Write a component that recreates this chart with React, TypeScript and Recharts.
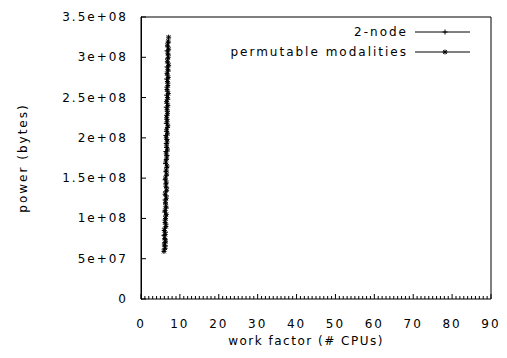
import { ScatterChart, Scatter, XAxis, YAxis } from "recharts"

// work factor (# CPUs) vs power (bytes, in millions)
const twoNodeX = [6.0, 6.3, 6.1, 6.2, 5.9, 6.3, 6.1, 6.4, 6.2, 6.3, 6.1, 6.5, 6.3, 6.2, 6.5, 6.3, 6.6, 6.4, 6.2, 6.5, 6.4, 6.6, 6.3, 6.5, 6.7, 6.4, 6.6, 6.5, 6.7, 6.4, 6.6, 6.8, 6.5, 6.7, 6.6, 6.8, 6.5, 6.7, 6.9, 6.6, 6.8, 6.7, 6.9, 6.6, 6.8, 7.0, 6.7, 6.9, 6.8, 7.0, 6.7, 6.9, 7.0]
const twoNodeY = [62, 66, 70, 74, 79, 83, 88, 93, 98, 103, 108, 113, 118, 123, 128, 133, 138, 143, 148, 153, 158, 163, 168, 173, 178, 183, 188, 193, 198, 203, 208, 213, 218, 223, 228, 233, 238, 243, 248, 253, 258, 263, 268, 273, 278, 283, 288, 293, 298, 303, 308, 313, 318]

const permX = [5.9, 6.2, 6.0, 6.3, 6.1, 6.2, 6.0, 6.4, 6.2, 6.3, 6.5, 6.2, 6.4, 6.3, 6.5, 6.2, 6.6, 6.4, 6.5, 6.3, 6.6, 6.5, 6.7, 6.4, 6.6, 6.5, 6.8, 6.6, 6.7, 6.5, 6.8, 6.6, 6.9, 6.7, 6.6, 6.8, 6.7, 6.9, 6.6, 6.8, 7.0, 6.7, 6.9, 6.8, 7.0, 6.7, 6.9, 7.1, 6.8, 7.0, 6.9, 7.1, 6.8, 7.0, 7.1]
const permY = [59, 63, 67, 71, 75, 80, 85, 90, 95, 100, 105, 110, 115, 120, 125, 130, 135, 140, 145, 150, 155, 160, 165, 170, 175, 180, 185, 190, 195, 200, 205, 210, 215, 220, 225, 230, 235, 240, 245, 250, 255, 260, 265, 270, 275, 280, 285, 290, 295, 300, 305, 310, 315, 320, 325]

const xMajorTicks = [0, 10, 20, 30, 40, 50, 60, 70, 80, 90]
const xMinorTicks = Array.from({ length: 91 }, (_, i) => i)
const yTicks = [0, 5e7, 1e8, 1.5e8, 2e8, 2.5e8, 3e8, 3.5e8]
const yTickLabels = ["0", "5e+07", "1e+08", "1.5e+08", "2e+08", "2.5e+08", "3e+08", "3.5e+08"]

const twoNode = twoNodeX.map((x, i) => ({ x, y: twoNodeY[i] * 1e6 }))
const perm = permX.map((x, i) => ({ x, y: permY[i] * 1e6 }))

const FONT = "DejaVu Sans"
const LEFT_X = 141

const plusPath = (cx: number, cy: number, r: number) =>
  `M${cx - r},${cy}H${cx + r}M${cx},${cy - r}V${cy + r}`
const starPath = (cx: number, cy: number, r: number) =>
  plusPath(cx, cy, r) + `M${cx - r * 0.75},${cy - r * 0.75}L${cx + r * 0.75},${cy + r * 0.75}M${cx - r * 0.75},${cy + r * 0.75}L${cx + r * 0.75},${cy - r * 0.75}`

const PlusDot = (p: any) => <path d={plusPath(p.cx, p.cy, 2.5)} stroke="#000" strokeWidth={1} fill="none" />
const StarDot = (p: any) => <path d={starPath(p.cx, p.cy, 2.5)} stroke="#000" strokeWidth={1} fill="none" />

const BottomTick = (p: any) => {
  const v = p.payload.value
  const major = v % 10 === 0
  return (
    <g>
      <line x1={p.x} x2={p.x} y1={p.y} y2={p.y - (major ? 5 : 3)} stroke="#000" />
      {major && (
        <text x={p.x} y={p.y + 29} textAnchor="middle" fontFamily={FONT} fontSize={12} letterSpacing={2} fill="#000">
          {v}
        </text>
      )}
    </g>
  )
}

const TopTick = (p: any) => <line x1={p.x} x2={p.x} y1={p.y} y2={p.y + 5} stroke="#000" />

// label plus an inward tick on the left border
const LeftTick = (p: any) => {
  const idx = yTicks.indexOf(p.payload.value)
  return (
    <g>
      <line x1={LEFT_X} x2={LEFT_X + 5} y1={p.y} y2={p.y} stroke="#000" strokeWidth={1} />
      <text x={p.x} y={p.y + 4} textAnchor="end" fontFamily={FONT} fontSize={12} letterSpacing={2} fill="#000">
        {yTickLabels[idx]}
      </text>
    </g>
  )
}

const RightTick = (p: any) => <line x1={p.x} x2={p.x - 5} y1={p.y} y2={p.y} stroke="#000" />

export default function App() {
  return (
    <div style={{ position: "absolute", left: 0, top: 0, width: 507, height: 358, background: "#fff" }}>
      <ScatterChart width={507} height={358} margin={{ top: 16, right: 15, bottom: 20, left: 0 }}>
        <XAxis
          type="number"
          dataKey="x"
          domain={[0, 90]}
          ticks={xMinorTicks}
          interval={0}
          height={39}
          tickSize={0}
          tickMargin={0}
          tickLine={false}
          axisLine={{ stroke: "#000" }}
          tick={BottomTick}
          allowDataOverflow
        />
        <XAxis
          xAxisId="top"
          orientation="top"
          type="number"
          dataKey="x"
          domain={[0, 90]}
          ticks={xMajorTicks}
          interval={0}
          height={1}
          tickSize={0}
          tickMargin={0}
          tickLine={false}
          axisLine={{ stroke: "#000" }}
          tick={TopTick}
        />
        <YAxis
          type="number"
          dataKey="y"
          domain={[0, 3.5e8]}
          ticks={yTicks}
          interval={0}
          width={141}
          tickSize={0}
          tickMargin={13}
          tickLine={false}
          axisLine={{ stroke: "#000", strokeWidth: 1 }}
          tick={LeftTick}
          allowDataOverflow
        />
        <YAxis
          yAxisId="right"
          orientation="right"
          type="number"
          dataKey="y"
          domain={[0, 3.5e8]}
          ticks={yTicks}
          interval={0}
          width={1}
          tickSize={0}
          tickMargin={0}
          tickLine={false}
          axisLine={{ stroke: "#000" }}
          tick={RightTick}
        />
        <Scatter
          name="2-node"
          data={twoNode}
          line={{ stroke: "#000", strokeWidth: 1 }}
          lineType="joint"
          shape={PlusDot}
          isAnimationActive={false}
        />
        <Scatter
          name="permutable modalities"
          data={perm}
          line={{ stroke: "#000", strokeWidth: 1 }}
          lineType="joint"
          shape={StarDot}
          isAnimationActive={false}
        />
      </ScatterChart>
      <svg width={507} height={358} style={{ position: "absolute", left: 0, top: 0, pointerEvents: "none" }}>
        {/* left border of the plot frame */}
        <line x1={LEFT_X + 0.5} x2={LEFT_X + 0.5} y1={16.5} y2={299.5} stroke="#000" strokeWidth={1} />
        <g fontFamily={FONT} fontSize={12} fill="#000">
          <text x={408} y={36} textAnchor="end" letterSpacing={2}>2-node</text>
          <line x1={415} x2={470} y1={32} y2={32} stroke="#000" />
          <path d={plusPath(445, 32, 2.5)} stroke="#000" fill="none" />
          <text x={408} y={56} textAnchor="end" letterSpacing={2}>permutable modalities</text>
          <line x1={415} x2={470} y1={52} y2={52} stroke="#000" />
          <path d={starPath(445, 52, 2.5)} stroke="#000" fill="none" />
          <text x={306} y={345} textAnchor="middle" letterSpacing={1.5}>work factor (# CPUs)</text>
          <text x={27} y={158} textAnchor="middle" letterSpacing={2} transform="rotate(-90 27 158)">power (bytes)</text>
        </g>
      </svg>
    </div>
  )
}
